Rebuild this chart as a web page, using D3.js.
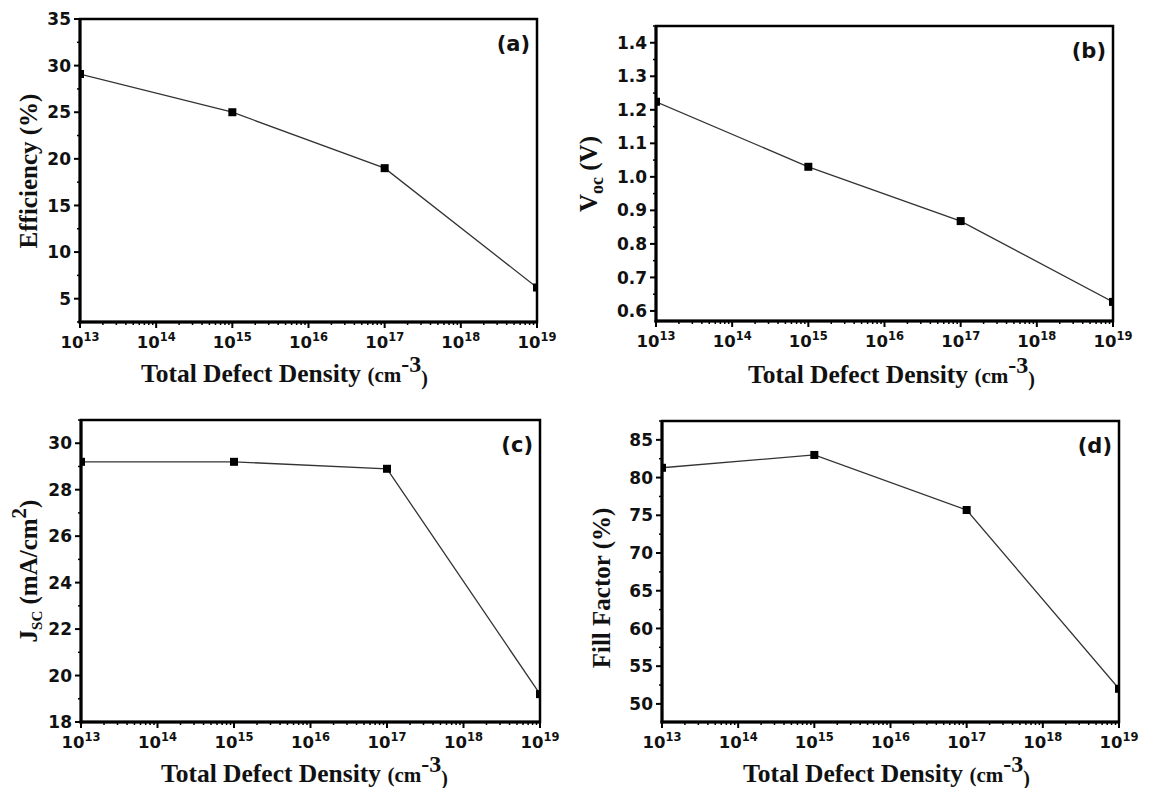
<!DOCTYPE html>
<html><head><meta charset="utf-8">
<script src="https://cdn.jsdelivr.net/npm/d3@7"></script>
<style>body{margin:0;background:#fff} svg{display:block}</style>
</head><body>
<svg id="chart" width="1157" height="788"></svg>
<script>
// ---- data ----
const densities = [1e13, 1e15, 1e17, 1e19];
const efficiency = [29.1, 25.0, 19.0, 6.2];
const voc = [1.224, 1.03, 0.868, 0.627];
const jsc = [29.2, 29.2, 28.9, 19.2];
const fillFactor = [81.3, 83.0, 75.7, 52.0];
const xTickExponents = [13, 14, 15, 16, 17, 18, 19];
const effTicks = [5, 10, 15, 20, 25, 30, 35];
const vocTicks = [0.6, 0.7, 0.8, 0.9, 1.0, 1.1, 1.2, 1.3, 1.4];
const jscTicks = [18, 20, 22, 24, 26, 28, 30];
const ffTicks = [50, 55, 60, 65, 70, 75, 80, 85];
const panelLetters = ["(a)", "(b)", "(c)", "(d)"];
const xTitleParts = [
  {t: "Total Defect Density ", size: 25.5, dy: 0},
  {t: "(cm", size: 21, dy: 0},
  {t: "-3", size: 24, dy: -10},
  {t: ")", size: 20, dy: 13}
];
const yTitles = [
  [{t: "Efficiency (%)", size: 25, dy: 0}],
  [{t: "V", size: 25, dy: 0}, {t: "oc", size: 18, dy: 6}, {t: " (V)", size: 25, dy: -6}],
  [{t: "J", size: 25, dy: 0}, {t: "SC", size: 15, dy: 5}, {t: " (mA/cm", size: 25, dy: -5}, {t: "2", size: 21, dy: -11}, {t: ")", size: 25, dy: 11}],
  [{t: "Fill Factor (%)", size: 25, dy: 0}]
];

// ---- layout ----
const panels = [
  {values: efficiency, ticks: effTicks, yDomain: [2.5, 35], dec: 0,
   box: {l: 80, t: 19, r: 537, b: 322}, yTitleX: 37, yTitleY: 171, xTitleX: 141, xTitleY: 382},
  {values: voc, ticks: vocTicks, yDomain: [0.57, 1.45], dec: 1,
   box: {l: 656, t: 26, r: 1113, b: 321}, yTitleX: 597, yTitleY: 174, xTitleX: 748, xTitleY: 383},
  {values: jsc, ticks: jscTicks, yDomain: [18, 31], dec: 0,
   box: {l: 81, t: 420, r: 540, b: 722}, yTitleX: 37, yTitleY: 571, xTitleX: 161, xTitleY: 782},
  {values: fillFactor, ticks: ffTicks, yDomain: [47.6, 87.5], dec: 0,
   box: {l: 662, t: 421, r: 1119, b: 722}, yTitleX: 610, yTitleY: 588, xTitleX: 743, xTitleY: 782}
];

const svg = d3.select("#chart");
const sansBold = "'DejaVu Sans', Verdana, sans-serif";
const serif = "'Liberation Serif', 'Times New Roman', serif";

panels.forEach((p, i) => {
  const b = p.box;
  const x = d3.scaleLog().domain([1e13, 1e19]).range([b.l, b.r]);
  const y = d3.scaleLinear().domain(p.yDomain).range([b.b, b.t]);
  const g = svg.append("g");
  const clipId = "clip" + i;
  svg.append("defs").append("clipPath").attr("id", clipId)
    .append("rect").attr("x", b.l).attr("y", b.t).attr("width", b.r - b.l).attr("height", b.b - b.t);

  // y ticks
  const step = p.ticks[1] - p.ticks[0];
  const minorY = [];
  p.ticks.forEach(t => {
    [t - step / 2, t + step / 2].forEach(m => {
      if (m >= p.yDomain[0] - 1e-9 && m <= p.yDomain[1] + 1e-9 && !minorY.some(v => Math.abs(v - m) < 1e-9)) minorY.push(m);
    });
  });
  g.selectAll(".ymin").data(minorY).enter().append("line")
    .attr("x1", b.l - 3).attr("x2", b.l).attr("y1", d => y(d)).attr("y2", d => y(d))
    .attr("stroke", "#000").attr("stroke-width", 1.5);
  g.selectAll(".ymaj").data(p.ticks).enter().append("line")
    .attr("x1", b.l - 6).attr("x2", b.l).attr("y1", d => y(d)).attr("y2", d => y(d))
    .attr("stroke", "#000").attr("stroke-width", 2);
  g.selectAll(".ylab").data(p.ticks).enter().append("text")
    .attr("x", b.l - 9).attr("y", d => y(d)).attr("dy", "0.36em")
    .attr("text-anchor", "end").attr("font-family", sansBold).attr("font-weight", "bold")
    .attr("font-size", 17).attr("fill", "#111")
    .text(d => d.toFixed(p.dec));

  // x ticks
  const minorX = [];
  for (let e = 13; e < 19; e++) for (let k = 2; k <= 9; k++) minorX.push(k * Math.pow(10, e));
  g.selectAll(".xmin").data(minorX).enter().append("line")
    .attr("x1", d => x(d)).attr("x2", d => x(d)).attr("y1", b.b).attr("y2", b.b + 3)
    .attr("stroke", "#000").attr("stroke-width", 1.5);
  g.selectAll(".xmaj").data(xTickExponents).enter().append("line")
    .attr("x1", d => x(Math.pow(10, d))).attr("x2", d => x(Math.pow(10, d)))
    .attr("y1", b.b).attr("y2", b.b + 6)
    .attr("stroke", "#000").attr("stroke-width", 2);
  const xl = g.selectAll(".xlab").data(xTickExponents).enter().append("text")
    .attr("x", d => x(Math.pow(10, d))).attr("y", b.b + 26)
    .attr("text-anchor", "middle").attr("font-family", sansBold).attr("font-weight", "bold")
    .attr("font-size", 16.5).attr("fill", "#111");
  xl.append("tspan").text("10");
  xl.append("tspan").attr("font-size", 11.5).attr("dy", -7).text(d => d);

  // frame
  g.append("rect").attr("x", b.l).attr("y", b.t).attr("width", b.r - b.l).attr("height", b.b - b.t)
    .attr("fill", "none").attr("stroke", "#000").attr("stroke-width", 2.5);
  g.append("line").attr("x1", b.l).attr("x2", b.l).attr("y1", b.t).attr("y2", b.b + 1.5)
    .attr("stroke", "#000").attr("stroke-width", 3);
  g.append("line").attr("x1", b.l - 1.5).attr("x2", b.r).attr("y1", b.b).attr("y2", b.b)
    .attr("stroke", "#000").attr("stroke-width", 3);

  // data
  const pts = densities.map((d, j) => [d, p.values[j]]);
  const plot = g.append("g").attr("clip-path", `url(#${clipId})`);
  plot.append("path").datum(pts)
    .attr("d", d3.line().x(d => x(d[0])).y(d => y(d[1])))
    .attr("fill", "none").attr("stroke", "#333").attr("stroke-width", 1.3);
  plot.selectAll(".pt").data(pts).enter().append("rect")
    .attr("x", d => x(d[0]) - 4).attr("y", d => y(d[1]) - 4)
    .attr("width", 8).attr("height", 8).attr("fill", "#000");

  // panel letter
  g.append("text").attr("x", b.r - 7).attr("y", b.t + 32).attr("text-anchor", "end")
    .attr("font-family", sansBold).attr("font-weight", "bold").attr("font-size", 21)
    .attr("fill", "#111").text(panelLetters[i]);

  // x title
  const xt = g.append("text").attr("x", p.xTitleX).attr("y", p.xTitleY)
    .attr("font-family", serif).attr("font-weight", "bold").attr("fill", "#111");
  xTitleParts.forEach(part => {
    xt.append("tspan").attr("font-size", part.size).attr("dy", part.dy).text(part.t);
  });

  // y title
  const yt = g.append("text")
    .attr("transform", `translate(${p.yTitleX},${p.yTitleY}) rotate(-90)`)
    .attr("text-anchor", "middle")
    .attr("font-family", serif).attr("font-weight", "bold").attr("fill", "#111");
  yTitles[i].forEach(part => {
    yt.append("tspan").attr("font-size", part.size).attr("dy", part.dy).text(part.t);
  });
});
</script>
</body></html>
